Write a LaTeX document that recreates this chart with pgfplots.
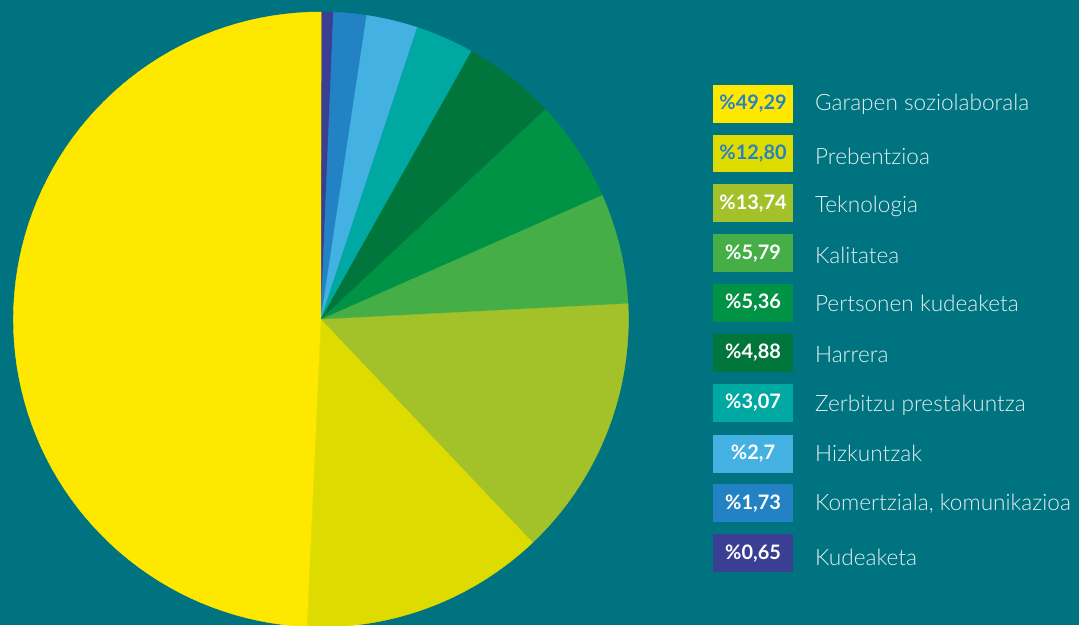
\documentclass[border=0pt]{standalone}
\usepackage{pgfplots}
\usepackage{pgfplotstable}
\pgfplotsset{compat=1.18}
\usepackage{fontspec}
\setmainfont{Lato}
\newfontfamily\lightfont{Lato Light}

\definecolor{bgc}{RGB}{0,115,128}
\definecolor{labc}{RGB}{228,240,240}
\definecolor{numblue}{RGB}{38,130,196}
\definecolor{c0}{RGB}{59,63,147}   % Kudeaketa
\definecolor{c1}{RGB}{34,130,196}  % Komertziala
\definecolor{c2}{RGB}{67,178,227}  % Hizkuntzak
\definecolor{c3}{RGB}{0,168,162}   % Zerbitzu
\definecolor{c4}{RGB}{0,118,60}    % Harrera
\definecolor{c5}{RGB}{0,146,69}    % Pertsonen
\definecolor{c6}{RGB}{69,174,70}   % Kalitatea
\definecolor{c7}{RGB}{163,194,42}  % Teknologia
\definecolor{c8}{RGB}{222,219,0}   % Prebentzioa
\definecolor{c9}{RGB}{255,232,0}   % Garapen

% clockwise from the top
\pgfplotstableread{
idx val
0 0.65
1 1.73
2 2.7
3 3.07
4 4.88
5 5.36
6 5.79
7 13.74
8 12.80
9 49.29
}\piedata

\gdef\cum{0}
\foreach \i in {0,...,9}{%
  \pgfplotstablegetelem{\i}{val}\of\piedata
  \pgfmathsetmacro\sa{90-3.6*\cum}%
  \pgfmathsetmacro\newcum{\cum+\pgfplotsretval}%
  \pgfmathsetmacro\sb{90-3.6*\newcum}%
  \expandafter\xdef\csname angA\i\endcsname{\sa}%
  \expandafter\xdef\csname angB\i\endcsname{\sb}%
  \xdef\cum{\newcum}%
}

\begin{document}
\pagecolor{bgc}
\begin{tikzpicture}
\begin{axis}[
  width=809.25pt, height=470.25pt, scale only axis,
  xmin=0, xmax=1079, ymin=0, ymax=627, y dir=reverse,
  axis lines=none, ticks=none,
  axis background/.style={fill=bgc},
  clip=true,
]
\pgfplotsinvokeforeach{0,...,9}{
  \edef\dA{\csname angA#1\endcsname}
  \edef\dB{\csname angB#1\endcsname}
  \addplot[draw=c#1, line width=0.3pt, fill=c#1, domain=\dB:\dA, samples=80]
    ({318.5+308.5*cos(x)},{320.5-308.5*sin(x)}) -- (axis cs:318.5,320.5) -- cycle;
}

\tikzset{
  box/.style={fill=#1, minimum width=60pt, minimum height=28.5pt, inner sep=0pt,
    text=white, font=\bfseries\fontsize{15}{16}\selectfont},
  lab/.style={anchor=west, inner sep=0pt, text=labc, font=\lightfont\fontsize{17}{19}\selectfont},
}
\node[box=c9, text=numblue] at (axis cs:752,104) {\%49,29};
\node[box=c8, text=numblue] at (axis cs:752,154) {\%12,80};
\node[box=c7] at (axis cs:752,204) {\%13,74};
\node[box=c6] at (axis cs:752,254) {\%5,79};
\node[box=c5] at (axis cs:752,304) {\%5,36};
\node[box=c4] at (axis cs:752,354) {\%4,88};
\node[box=c3] at (axis cs:752,404) {\%3,07};
\node[box=c2] at (axis cs:752,455) {\%2,7};
\node[box=c1] at (axis cs:752,505) {\%1,73};
\node[box=c0] at (axis cs:752,555) {\%0,65};

\node[lab] at (axis cs:814,105) {Garapen soziolaborala};
\node[lab] at (axis cs:814,157) {Prebentzioa};
\node[lab] at (axis cs:814,207) {Teknologia};
\node[lab] at (axis cs:814,256) {Kalitatea};
\node[lab] at (axis cs:814,304) {Pertsonen kudeaketa};
\node[lab] at (axis cs:814,356) {Harrera};
\node[lab] at (axis cs:814,407) {Zerbitzu prestakuntza};
\node[lab] at (axis cs:814,455) {Hizkuntzak};
\node[lab] at (axis cs:814,505) {Komertziala, komunikazioa};
\node[lab] at (axis cs:814,559) {Kudeaketa};
\end{axis}
\end{tikzpicture}
\end{document}
